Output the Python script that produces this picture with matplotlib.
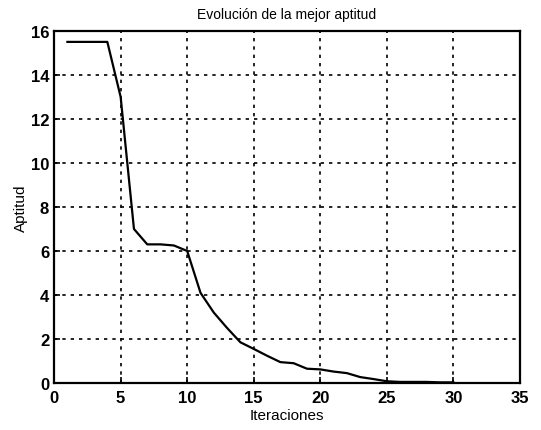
import matplotlib.pyplot as plt

iteraciones = list(range(1, 31))
aptitud = [15.5, 15.5, 15.5, 15.5, 13.0, 7.0, 6.3, 6.3, 6.25, 6.0,
           4.1, 3.2, 2.5, 1.85, 1.55, 1.24, 0.95, 0.9, 0.65, 0.62,
           0.52, 0.45, 0.27, 0.18, 0.08, 0.05, 0.05, 0.05, 0.03, 0.03]

plt.rcParams['font.family'] = ['Liberation Sans', 'DejaVu Sans']

fig = plt.figure(figsize=(5.41, 4.31), dpi=100)
ax = fig.add_axes([0.1, 0.109, 0.861, 0.817])
ax.plot(iteraciones, aptitud, color='black', linewidth=1.6)

ax.set_xlim(0, 35)
ax.set_ylim(0, 16)
ax.set_xticks(range(0, 36, 5))
ax.set_yticks(range(0, 17, 2))
ax.grid(True, color='black', linestyle=(0, (2, 3)), linewidth=1.2)
ax.tick_params(direction='in', length=4, width=1.2, labelsize=12)
ax.tick_params(axis='x', pad=5)
for lbl in ax.get_xticklabels() + ax.get_yticklabels():
    lbl.set_fontweight('bold')
for s in ax.spines.values():
    s.set_linewidth(1.6)

ax.set_title('Evolución de la mejor aptitud', fontsize=10, pad=9)
ax.set_xlabel('Iteraciones', fontsize=11, labelpad=2)
ax.set_ylabel('Aptitud', fontsize=11, labelpad=2)

fig.savefig('out.png', dpi=100)
